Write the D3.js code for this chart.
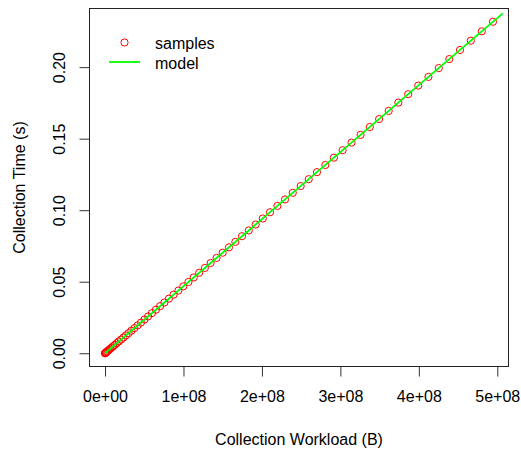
<!DOCTYPE html>
<html lang="en">
	<head>
		<meta charset="utf-8">
		<title>collection time vs workload</title>
		<script src="https://d3js.org/d3.v7.min.js"></script>
		<style>
			body { margin: 0; background: #fff; }
			text { font-family: "Liberation Sans", Arial, Helvetica, sans-serif; fill: #000; }
		</style>
	</head>
	<body>
		<script type="text/javascript">
			// window size setup
			var w = 521
			var h = 450
			var box = { left: 89.5, right: 508.5, top: 8.5, bottom: 366.5 }

			// dataSet setup (workload in MB, time in seconds)
			var workloadMB = [0, 0.10, 0.42, 0.93, 1.66, 2.60, 3.74, 5.09, 6.65, 8.41,
				10.39, 12.57, 14.96, 17.55, 20.36, 23.37, 26.59, 30.02, 33.65, 37.49,
				41.55, 45.80, 50.27, 54.94, 59.82, 64.91, 70.21, 75.71, 81.43, 87.35,
				93.47, 99.81, 106.35, 113.10, 120.06, 127.23, 134.60, 142.18, 149.97, 157.97,
				166.18, 174.59, 183.21, 192.04, 201.07, 210.32, 219.77, 229.43, 239.29, 249.37,
				259.65, 270.14, 280.84, 291.75, 302.86, 314.19, 325.71, 337.45, 349.39, 361.54,
				373.90, 386.47, 399.25, 412.23, 425.42, 438.83, 452.43, 466.25, 480.27, 494.50]
			var timeS = [0, 0.00005, 0.0002, 0.00044, 0.00078, 0.00122, 0.00175, 0.00239, 0.00312, 0.00394,
				0.00487, 0.00589, 0.00701, 0.00822, 0.00954, 0.01095, 0.01246, 0.01407, 0.01577, 0.01757,
				0.01947, 0.02146, 0.02356, 0.02574, 0.02803, 0.03042, 0.0329, 0.03548, 0.03816, 0.04093,
				0.0438, 0.04677, 0.04984, 0.053, 0.05626, 0.05962, 0.06307, 0.06663, 0.07028, 0.07402,
				0.07787, 0.08181, 0.08585, 0.08999, 0.09422, 0.09856, 0.10298, 0.10751, 0.11213, 0.11685,
				0.12167, 0.12659, 0.1316, 0.13671, 0.14192, 0.14723, 0.15263, 0.15813, 0.16372, 0.16942,
				0.17521, 0.1811, 0.18709, 0.19317, 0.19935, 0.20563, 0.21201, 0.21849, 0.22505, 0.23172]

			// fitted model line end points
			var modelMB = [0, 507]
			var modelS = [0, 0.2376]

			// ticks
			var xTicks = [0, 1e8, 2e8, 3e8, 4e8, 5e8]
			var xTickLabels = ["0e+00", "1e+08", "2e+08", "3e+08", "4e+08", "5e+08"]
			var yTicks = [0, 0.05, 0.10, 0.15, 0.20]
			var yTickLabels = ["0.00", "0.05", "0.10", "0.15", "0.20"]

			var dataSet = workloadMB.map(function(d, i){
				return [d * 1e6, timeS[i]]
			})

			// scale setup (R style: 4% padding around the data range)
			var xExt = d3.extent(dataSet, function(d){ return d[0] })
			var yExt = d3.extent(dataSet, function(d){ return d[1] })
			var xPad = (xExt[1] - xExt[0]) * 0.04
			var yPad = (yExt[1] - yExt[0]) * 0.04

			var xScale = d3.scaleLinear()
							.domain([xExt[0] - xPad, xExt[1] + xPad])
							.range([box.left, box.right])
			var yScale = d3.scaleLinear()
							.domain([yExt[0] - yPad, yExt[1] + yPad])
							.range([box.bottom, box.top])

			// create SVG
			var svg = d3.select("body")
						.append("svg")
						.attr("width", w)
						.attr("height", h)

			// create circles
			svg.append("g")
				.selectAll("circle")
				.data(dataSet)
				.enter()
				.append("circle")
				.attr("cx", function(d){ return xScale(d[0]) })
				.attr("cy", function(d){ return yScale(d[1]) })
				.attr("r", 3.6)
				.attr("fill", "none")
				.attr("stroke", "#ff0000")
				.attr("stroke-width", 1)

			// model line
			var line = d3.line()
						.x(function(d){ return xScale(d[0]) })
						.y(function(d){ return yScale(d[1]) })
			svg.append("path")
				.datum(modelMB.map(function(d, i){ return [d * 1e6, modelS[i]] }))
				.attr("d", line)
				.attr("fill", "none")
				.attr("stroke", "#00ff00")
				.attr("stroke-width", 1.8)

			// box
			svg.append("rect")
				.attr("x", box.left)
				.attr("y", box.top)
				.attr("width", box.right - box.left)
				.attr("height", box.bottom - box.top)
				.attr("fill", "none")
				.attr("stroke", "#222")
				.attr("stroke-width", 1)

			// X axis
			var xAxis = d3.axisBottom(xScale)
							.tickValues(xTicks)
							.tickSize(10)
							.tickPadding(14)
							.tickFormat(function(d, i){ return xTickLabels[i] })
			var gx = svg.append("g")
				.attr("transform", "translate(0," + box.bottom + ")")
				.call(xAxis)
			gx.select(".domain").remove()
			gx.selectAll("line").attr("stroke", "#333")
			gx.selectAll("text")
				.attr("font-size", 16)
				.attr("font-family", null)

			// Y axis
			var yAxis = d3.axisLeft(yScale)
							.tickValues(yTicks)
							.tickSize(10)
							.tickFormat(function(d, i){ return yTickLabels[i] })
			var gy = svg.append("g")
				.attr("transform", "translate(" + box.left + ",0)")
				.call(yAxis)
			gy.select(".domain").remove()
			gy.selectAll("line").attr("stroke", "#333")
			gy.selectAll("text")
				.attr("font-size", 16)
				.attr("font-family", null)
				.attr("x", null)
				.attr("dy", null)
				.attr("text-anchor", "middle")
				.attr("transform", "translate(-24.5,0) rotate(-90)")

			// axis titles
			svg.append("text")
				.attr("x", (box.left + box.right) / 2)
				.attr("y", 445)
				.attr("text-anchor", "middle")
				.attr("font-size", 16)
				.text("Collection Workload (B)")
			svg.append("text")
				.attr("transform", "translate(25," + (box.top + box.bottom) / 2 + ") rotate(-90)")
				.attr("text-anchor", "middle")
				.attr("font-size", 16)
				.text("Collection Time (s)")

			// legend
			var legend = svg.append("g")
			legend.append("circle")
				.attr("cx", 124.5)
				.attr("cy", 42.5)
				.attr("r", 3.6)
				.attr("fill", "none")
				.attr("stroke", "#ff0000")
			legend.append("line")
				.attr("x1", 109)
				.attr("x2", 140)
				.attr("y1", 62)
				.attr("y2", 62)
				.attr("stroke", "#00ff00")
				.attr("stroke-width", 1.8)
			legend.append("text")
				.attr("x", 155)
				.attr("y", 48.5)
				.attr("font-size", 16)
				.text("samples")
			legend.append("text")
				.attr("x", 155)
				.attr("y", 68.5)
				.attr("font-size", 16)
				.text("model")
		</script>
	</body>
</html>
